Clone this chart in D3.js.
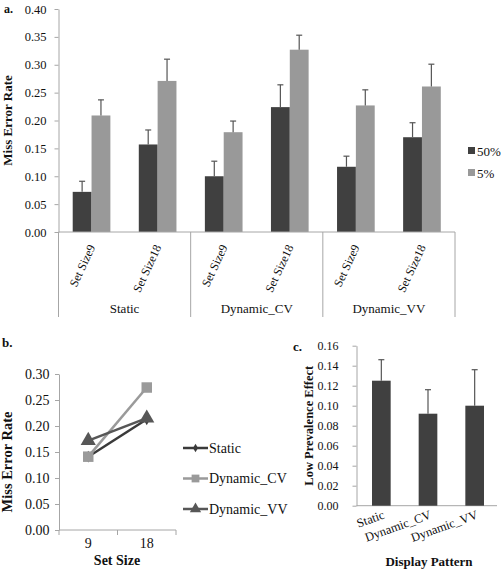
<!DOCTYPE html>
<html><head><meta charset="utf-8">
<script src="https://cdn.jsdelivr.net/npm/d3@7/dist/d3.min.js"></script>
<style>
body{margin:0;background:#fff;}
svg{display:block;font-family:"Liberation Serif","Times New Roman",serif;}
svg text{font-family:"Liberation Serif","Times New Roman",serif;}
</style></head>
<body><svg id="c" width="504" height="570"></svg>
<script>
// ---------- Panel a data ----------
const groupsA = ["Static","Dynamic_CV","Dynamic_VV"];
const setSizesA = ["Set Size9","Set Size18"];
const seriesA = ["50%","5%"];
const val50 = [0.072,0.157,0.100,0.224,0.117,0.170];
const val5  = [0.209,0.271,0.179,0.327,0.227,0.261];
const err50 = [0.019,0.026,0.027,0.040,0.019,0.026];
const err5  = [0.028,0.039,0.020,0.026,0.028,0.040];
const ticksA = [0,0.05,0.10,0.15,0.20,0.25,0.30,0.35,0.40];

// ---------- Panel b data ----------
const setSizesB = ["9","18"];
const linesB = ["Static","Dynamic_CV","Dynamic_VV"];
const staticB = [0.141,0.213];
const cvB = [0.141,0.274];
const vvB = [0.172,0.215];
const ticksB = [0,0.05,0.10,0.15,0.20,0.25,0.30];

// ---------- Panel c data ----------
const patternsC = ["Static","Dynamic_CV","Dynamic_VV"];
const effectC = [0.125,0.092,0.100];
const errC = [0.021,0.024,0.036];
const ticksC = [0,0.02,0.04,0.06,0.08,0.10,0.12,0.14,0.16];

const DARK="#404040", LIGHT="#999999", AX="#a6a6a6", TXT="#111";
const svg = d3.select("#c");

function styleAxis(ax, fs, dx){
  ax.attr("font-family",null);
  ax.select(".domain").attr("stroke",AX);
  ax.selectAll(".tick line").attr("stroke",AX);
  ax.selectAll("text").attr("fill",TXT).style("font-size",fs).attr("x",dx);
}

// ================= Panel a =================
{
  const g = svg.append("g");
  const cats = [];
  groupsA.forEach(gr=>setSizesA.forEach(s=>cats.push(gr+"|"+s)));
  const x0 = d3.scaleBand().domain(cats).range([58.5,455]).padding(0);
  const x1 = d3.scaleBand().domain(seriesA).range([x0.bandwidth()*0.215, x0.bandwidth()*0.785]);
  const y = d3.scaleLinear().domain([0,0.40]).range([232,9]);
  const vals = {"50%":val50,"5%":val5}, errs={"50%":err50,"5%":err5}, cols={"50%":DARK,"5%":LIGHT};

  const ya = g.append("g").attr("transform","translate(58.5,0)")
    .call(d3.axisLeft(y).tickValues(ticksA).tickFormat(d3.format(".2f")).tickSize(4).tickSizeOuter(0));
  styleAxis(ya,"12.5px",-12);

  seriesA.forEach(s=>{
    cats.forEach((c,i)=>{
      const bx = x0(c)+x1(s), bw=x1.bandwidth(), v=vals[s][i], e=errs[s][i];
      g.append("rect").attr("x",bx).attr("y",y(v)).attr("width",bw).attr("height",y(0)-y(v)).attr("fill",cols[s]);
      const cx = bx+bw/2;
      g.append("line").attr("x1",cx).attr("x2",cx).attr("y1",y(v)).attr("y2",y(v+e)).attr("stroke","#555").attr("stroke-width",1.2);
      g.append("line").attr("x1",cx-3).attr("x2",cx+3).attr("y1",y(v+e)).attr("y2",y(v+e)).attr("stroke","#555").attr("stroke-width",1.2);
    });
  });

  g.append("line").attr("x1",58.5).attr("x2",455).attr("y1",y(0)).attr("y2",y(0)).attr("stroke",AX);
  const xg = d3.scaleBand().domain(groupsA).range([58.5,455]);
  groupsA.forEach(gr=>{
    g.append("line").attr("x1",xg(gr)).attr("x2",xg(gr)).attr("y1",y(0)).attr("y2",317).attr("stroke",AX);
    g.append("text").attr("x",xg(gr)+xg.bandwidth()/2).attr("y",313).attr("text-anchor","middle")
      .style("font-size","13px").attr("fill",TXT).text(gr);
  });
  g.append("line").attr("x1",455).attr("x2",455).attr("y1",y(0)).attr("y2",317).attr("stroke",AX);

  cats.forEach(c=>{
    const cx = x0(c)+x0.bandwidth()/2+4;
    g.append("text").attr("transform",`translate(${cx},247) rotate(-65)`).attr("text-anchor","end")
      .style("font-size","12px").attr("fill",TXT).text(c.split("|")[1]);
  });

  g.append("text").attr("transform",`translate(12,${(9+232)/2}) rotate(-90)`).attr("text-anchor","middle")
    .style("font-size","13px").style("font-weight","bold").attr("fill",TXT).text("Miss Error Rate");
  g.append("text").attr("x",4).attr("y",13).style("font-size","12px").style("font-weight","bold").attr("fill",TXT).text("a.");

  seriesA.forEach((s,i)=>{
    const ly = 151 + i*22;
    g.append("rect").attr("x",468).attr("y",ly-4).attr("width",7).attr("height",7).attr("fill",cols[s]);
    g.append("text").attr("x",477).attr("y",ly+4.5).style("font-size","13px").attr("fill",TXT).text(s);
  });
}

// ================= Panel b =================
{
  const g = svg.append("g");
  const x = d3.scaleBand().domain(setSizesB).range([59,176]);
  const y = d3.scaleLinear().domain([0,0.30]).range([530,374]);
  const ya = g.append("g").attr("transform","translate(59,0)")
    .call(d3.axisLeft(y).tickValues(ticksB).tickFormat(d3.format(".2f")).tickSize(4).tickSizeOuter(0));
  styleAxis(ya,"14px",-9.5);

  g.append("line").attr("x1",59).attr("x2",176).attr("y1",530).attr("y2",530).attr("stroke",AX);
  const bounds = [x.range()[0]].concat(setSizesB.map(d=>x(d)+x.bandwidth()));
  bounds.forEach(b=>g.append("line").attr("x1",b).attr("x2",b).attr("y1",530).attr("y2",535).attr("stroke",AX));
  setSizesB.forEach(d=>g.append("text").attr("x",x(d)+x.bandwidth()/2).attr("y",548).attr("text-anchor","middle")
    .style("font-size","14px").attr("fill",TXT).text(d));

  const data = {"Static":staticB,"Dynamic_CV":cvB,"Dynamic_VV":vvB};
  const col = {"Static":"#3a3a3a","Dynamic_CV":"#9a9a9a","Dynamic_VV":"#575757"};
  const sym = {"Static":d3.symbolDiamond,"Dynamic_CV":d3.symbolSquare,"Dynamic_VV":d3.symbolTriangle};
  const sz = {"Static":40,"Dynamic_CV":110,"Dynamic_VV":100};
  const line = d3.line().x((d,i)=>x(setSizesB[i])+x.bandwidth()/2).y(d=>y(d));
  linesB.forEach(k=>{
    g.append("path").attr("d",line(data[k])).attr("fill","none").attr("stroke",col[k]).attr("stroke-width",2.5);
    data[k].forEach((v,i)=>{
      g.append("path").attr("d",d3.symbol().type(sym[k]).size(sz[k])())
        .attr("transform",`translate(${x(setSizesB[i])+x.bandwidth()/2},${y(v)})`).attr("fill",col[k]);
    });
  });

  linesB.forEach((k,i)=>{
    const ly = 448 + i*30.5;
    g.append("line").attr("x1",183).attr("x2",208).attr("y1",ly).attr("y2",ly).attr("stroke",col[k]).attr("stroke-width",2.5);
    g.append("path").attr("d",d3.symbol().type(sym[k]).size(sz[k]*0.55)()).attr("transform",`translate(195.5,${ly})`).attr("fill",col[k]);
    g.append("text").attr("x",209).attr("y",ly+4.5).style("font-size","14px").attr("fill",TXT).text(k);
  });

  g.append("text").attr("transform",`translate(12,${(374+530)/2+10}) rotate(-90)`).attr("text-anchor","middle")
    .style("font-size","14.5px").style("font-weight","bold").attr("fill",TXT).text("Miss Error Rate");
  g.append("text").attr("x",117).attr("y",565).attr("text-anchor","middle")
    .style("font-size","14px").style("font-weight","bold").attr("fill",TXT).text("Set Size");
  g.append("text").attr("x",2).attr("y",347).style("font-size","13px").style("font-weight","bold").attr("fill",TXT).text("b.");
}

// ================= Panel c =================
{
  const g = svg.append("g");
  const x = d3.scaleBand().domain(patternsC).range([358,498]).paddingInner(0.6).paddingOuter(0.3);
  const y = d3.scaleLinear().domain([0,0.16]).range([505.7,345.7]);
  const ya = g.append("g").attr("transform","translate(356.5,0)")
    .call(d3.axisLeft(y).tickValues(ticksC).tickFormat(d3.format(".2f")).tickSize(4).tickSizeOuter(0));
  styleAxis(ya,"12px",-18);

  g.append("line").attr("x1",356.5).attr("x2",497).attr("y1",y(0)).attr("y2",y(0)).attr("stroke",AX);
  patternsC.forEach((p,i)=>{
    const v=effectC[i], e=errC[i], bx=x(p), bw=x.bandwidth(), cx=bx+bw/2;
    g.append("rect").attr("x",bx).attr("y",y(v)).attr("width",bw).attr("height",y(0)-y(v)).attr("fill",DARK);
    g.append("line").attr("x1",cx).attr("x2",cx).attr("y1",y(v)).attr("y2",y(v+e)).attr("stroke","#555").attr("stroke-width",1.2);
    g.append("line").attr("x1",cx-3).attr("x2",cx+3).attr("y1",y(v+e)).attr("y2",y(v+e)).attr("stroke","#555").attr("stroke-width",1.2);
    g.append("text").attr("transform",`translate(${cx+4},518) rotate(-20)`).attr("text-anchor","end")
      .style("font-size","12.5px").attr("fill",TXT).text(p);
  });
  g.append("text").attr("transform",`translate(313,${(345.7+505.7)/2}) rotate(-90)`).attr("text-anchor","middle")
    .style("font-size","12.5px").style("font-weight","bold").attr("fill",TXT).text("Low Prevalence Effect");
  g.append("text").attr("x",429).attr("y",566).attr("text-anchor","middle")
    .style("font-size","13px").style("font-weight","bold").attr("fill",TXT).text("Display Pattern");
  g.append("text").attr("x",293).attr("y",351).style("font-size","13px").style("font-weight","bold").attr("fill",TXT).text("c.");
}
</script></body></html>
